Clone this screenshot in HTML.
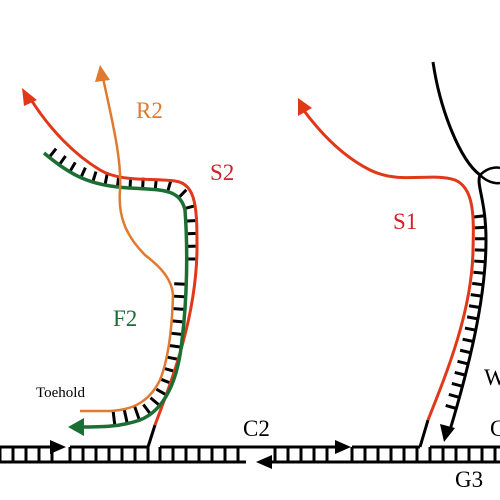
<!DOCTYPE html>
<html><head><meta charset="utf-8">
<style>
html,body{margin:0;padding:0;background:#fff;}
svg{display:block;}
text{font-family:"Liberation Serif",serif;}
</style></head>
<body>
<svg id="s" width="500" height="500" viewBox="0 0 500 500">
  <g stroke="#000" stroke-width="3" fill="none">
    <line x1="0" y1="447" x2="52" y2="447"/>
    <line x1="70" y1="447" x2="148" y2="447"/>
    <line x1="160" y1="447" x2="336" y2="447"/>
    <line x1="352" y1="447" x2="420" y2="447"/>
    <line x1="430" y1="447" x2="500" y2="447"/>
    <line x1="0" y1="462" x2="246" y2="462"/>
    <line x1="270" y1="462" x2="500" y2="462"/>
    <line x1="148" y1="447" x2="155" y2="425"/>
    <line x1="420" y1="447" x2="428" y2="420"/>
  </g>
  <g fill="#000">
    <polygon points="50,440 66,447 50,454"/>
    <polygon points="335,440 351,447 335,454"/>
    <polygon points="272,455 256,462 272,469"/>
  </g>
  <g id="rungs" stroke="#000" stroke-width="3"></g>

  <path id="s2" d="M155,425 C170,385 196,320 197,250 C197,210 197,184 175,181 C150,178 120,182 100,170 C75,155 50,130 30,98" stroke="#e03818" stroke-width="3" fill="none"/>
  <polygon points="22,88 37,100 24,106" fill="#e03818"/>
  <path id="f2" d="M44,153 C70,175 90,186 130,188 C160,190 180,188 185,210 C188,250 187,300 182,340 C178,380 165,410 140,420 C120,427 100,427 80,427" stroke="#1d6e35" stroke-width="3.5" fill="none"/>
  <polygon points="68,427 84,418 84,436" fill="#1d6e35"/>
  <path id="r2" d="M103,78 C112,120 122,160 120,190 C118,215 125,235 145,255 C162,268 172,280 173,295 C172,330 168,360 160,380 C150,400 135,410 110,411 L80,411" stroke="#e07a30" stroke-width="2.5" fill="none"/>
  <polygon points="100,65 110,80 95,82" fill="#e07a30"/>

  <path id="s1" d="M428,420 C448,370 472,310 473,250 C474,215 474,188 455,180 C430,172 400,185 370,170 C340,155 318,130 302,108" stroke="#e03818" stroke-width="3" fill="none"/>
  <polygon points="298,98 312,108 298,116" fill="#e03818"/>
  <path id="w" d="M433,62 C440,110 460,160 480,175 C476,185 486,200 486,240 C486,300 468,370 450,430" stroke="#000" stroke-width="3" fill="none"/>
  <path d="M480,175 C490,165 500,168 500,168 M480,175 C490,185 500,183 500,183" stroke="#000" stroke-width="2.5" fill="none"/>
  <polygon points="444,442 440,424 455,428" fill="#000"/>

  <text x="136" y="118" font-size="23" fill="#e07a30">R2</text>
  <text x="210" y="180" font-size="23" fill="#d0202a">S2</text>
  <text x="113" y="326" font-size="23" fill="#1d6e35">F2</text>
  <text x="36" y="397" font-size="15" fill="#000">Toehold</text>
  <text x="393" y="229" font-size="23" fill="#d0202a">S1</text>
  <text x="243" y="436" font-size="23" fill="#000">C2</text>
  <text x="455" y="487" font-size="23" fill="#000">G3</text>
  <text x="484" y="385" font-size="23" fill="#000">W</text>
  <text x="490" y="436" font-size="23" fill="#000">C</text>
</svg>
<script>
var NS="http://www.w3.org/2000/svg";
var g=document.getElementById('rungs');
function line(x1,y1,x2,y2){var l=document.createElementNS(NS,'line');l.setAttribute('x1',x1);l.setAttribute('y1',y1);l.setAttribute('x2',x2);l.setAttribute('y2',y2);g.appendChild(l);}
var duplexRungs=[[0,52],[70,148],[160,246],[275,336],[352,420],[430,500]];
duplexRungs.forEach(function(r){for(var x=r[0];x<=r[1];x+=13)line(x,447,x,462);});
// sample path densely and place rungs at true euclidean spacing
function rungsAlong(id,spacing,startFrac,endFrac,fn){
  var pa=document.getElementById(id),L=pa.getTotalLength(),N=600;
  var pts=[];for(var i=0;i<=N;i++){var p=pa.getPointAtLength(L*i/N);pts.push({x:p.x,y:p.y});}
  var acc=0,next=spacing*0.5,total=0,cum=[0];
  for(var i=1;i<=N;i++){total+=Math.hypot(pts[i].x-pts[i-1].x,pts[i].y-pts[i-1].y);cum.push(total);}
  for(var i=1;i<N;i++){
    var f=cum[i]/total;
    if(f<startFrac||f>endFrac)continue;
    if(cum[i]>=next){
      var dx=pts[i+1].x-pts[i-1].x,dy=pts[i+1].y-pts[i-1].y,m=Math.hypot(dx,dy)||1;
      fn(pts[i].x,pts[i].y,-dy/m,dx/m,f);
      next=cum[i]+spacing;
    }
  }
}
rungsAlong('f2',12.5,0,0.93,function(x,y,nx,ny){
  if(x<80&&y>400)return;
  if(y<268) line(x,y,x-nx*11,y-ny*11);
  else if(y>282){var len=y>415?15:12;line(x,y,x+nx*len,y+ny*len);}
});
rungsAlong('w',11,0.43,0.97,function(x,y,nx,ny){line(x,y,x+nx*11,y+ny*11);});
</script>
</body></html>
